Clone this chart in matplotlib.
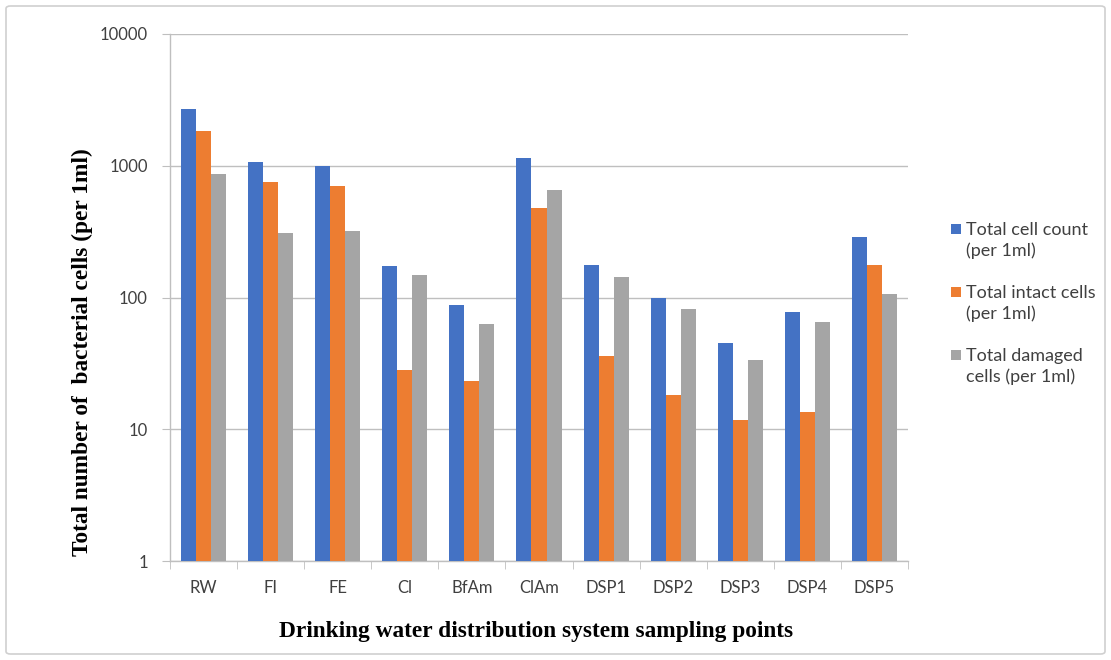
import numpy as np
import matplotlib
matplotlib.use("Agg")
import matplotlib.pyplot as plt
from matplotlib import patches

sites = ["RW", "FI", "FE", "Cl", "BfAm", "ClAm", "DSP1", "DSP2", "DSP3", "DSP4", "DSP5"]
total_cells = [2690, 1063, 1000, 172, 87, 1140, 178, 100, 45.5, 78, 286]
intact_cells = [1830, 750, 698, 28, 23.4, 475, 36, 18.3, 11.8, 13.6, 178]
damaged_cells = [861, 307, 318, 147, 63.4, 651, 142, 82.5, 33.8, 65.7, 107]
series_names = ["Total cell count\n(per 1ml)", "Total intact cells\n(per 1ml)",
                "Total damaged\ncells (per 1ml)"]
colors = ["#4472C4", "#ED7D31", "#A5A5A5"]

W, H = 1111, 660
fig = plt.figure(figsize=(W / 100, H / 100), dpi=100)
ax = fig.add_axes([170 / W, 1 - 561 / H, (908 - 170) / W, (561 - 34) / H])

def px(xp, yp):
    # pixel position (from top-left) -> figure fraction
    return xp / W, 1 - yp / H

x = np.arange(len(sites))
bw = 0.224
for i, (vals, c) in enumerate(zip([total_cells, intact_cells, damaged_cells], colors)):
    ax.bar(x + (i - 1) * bw, vals, bw, color=c, zorder=3)

ax.set_yscale("log")
ax.set_ylim(1, 10000)
ax.set_xlim(-0.5, len(sites) - 0.5)
ax.set_yticks([1, 10, 100, 1000, 10000])
ax.set_yticklabels(["1", "10", "100", "1000", "10000"])
ax.yaxis.set_minor_locator(matplotlib.ticker.NullLocator())
ax.set_xticks(x)
ax.set_xticklabels(sites)
ax.set_xticks(np.arange(len(sites) + 1) - 0.5, minor=True)

grid_c = "#BFBFBF"
txt_c = "#404040"
ax.grid(axis="y", which="major", color=grid_c, linewidth=1.0, zorder=0)
for s in ["top", "right"]:
    ax.spines[s].set_visible(False)
for s in ["left", "bottom"]:
    ax.spines[s].set_color(grid_c)
    ax.spines[s].set_linewidth(1.0)

ax.tick_params(axis="y", which="major", length=6, color=grid_c, pad=10, labelsize=12, labelcolor=txt_c)
ax.tick_params(axis="x", which="major", length=0, pad=14, labelsize=12, labelcolor=txt_c)
ax.tick_params(axis="x", which="minor", length=6, color=grid_c)
for lab in ax.get_xticklabels() + ax.get_yticklabels():
    lab.set_fontfamily(["Lato", "DejaVu Sans"])

label_font = dict(family="Liberation Serif", weight="bold", size=16.8, color="black")
fig.text(*px(82, 352), "Total number of  bacterial cells (per 1ml)", rotation=90,
         ha="center", va="center", **label_font)
fig.text(*px(536, 632), "Drinking water distribution system sampling points",
         ha="center", va="center", **label_font)

# legend: square key aligned with the first line of each two-line label
for i, (name, c) in enumerate(zip(series_names, colors)):
    y0 = 229 + i * 63
    fig.patches.append(patches.Rectangle(px(951, y0 + 5), 10 / W, 10 / H, transform=fig.transFigure,
                                         facecolor=c, edgecolor="none"))
    fig.text(*px(966, y0 - 7), name, ha="left", va="top", linespacing=1.3,
             family=["Lato", "DejaVu Sans"], size=13, color=txt_c,
             transform=fig.transFigure)

border = patches.FancyBboxPatch((6 / W, 6 / H), (W - 12) / W, (H - 12) / H,
                                boxstyle="round,pad=0,rounding_size=0.004",
                                transform=fig.transFigure, fill=False,
                                edgecolor="#D0D0D0", linewidth=1.2)
fig.patches.append(border)

fig.savefig("out.png", dpi=100)
